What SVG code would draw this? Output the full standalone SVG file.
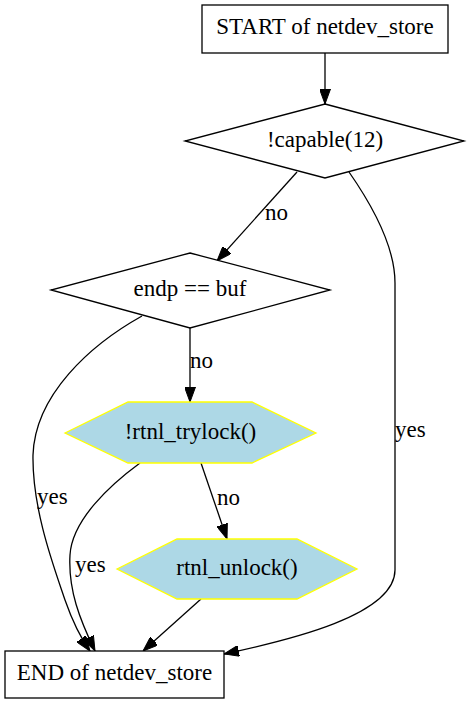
<svg xmlns="http://www.w3.org/2000/svg" width="469" height="704" viewBox="0 0 469 704">
<style>
.n{fill:#fff;stroke:#000;stroke-width:1.3}
.h{fill:#add8e6;stroke:#ffff00;stroke-width:1.3}
.t{font-family:"Liberation Serif","Times New Roman",serif;font-size:23px;fill:#000}
.m{text-anchor:middle}
.e{fill:none;stroke:#000;stroke-width:1.3;marker-end:url(#a)}
</style>
<defs>
<marker id="a" viewBox="0 0 15 11" refX="15" refY="5.5" markerWidth="15" markerHeight="11" markerUnits="userSpaceOnUse" orient="auto">
<path d="M0,0 L15,5.5 L0,11 z" fill="#000" stroke="#000" stroke-width="1"/>
</marker>
</defs>
<rect width="469" height="704" fill="#fff"/>
<g id="edges">
<path class="e" d="M325,53 L325,104"/>
<path class="e" d="M297,172 L217,261"/>
<path class="e" d="M190,328 L190,402"/>
<path class="e" d="M201,463 L227,539"/>
<path class="e" d="M201,599 L143,651"/>
<path class="e" d="M349,172 C372,205 395,245 395,283 L395,570 C395,615 290,640 224,654"/>
<path class="e" d="M142,316 C90,345 35,395 33,455 C32,510 55,570 65,600 C72,620 80,637 90,651"/>
<path class="e" d="M140,463 C110,485 72,520 70,555 C68,590 80,620 95,651"/>
<text class="t" x="265" y="220">no</text>
<text class="t" x="190" y="368">no</text>
<text class="t" x="395" y="437">yes</text>
<text class="t" x="217" y="505">no</text>
<text class="t" x="37" y="504">yes</text>
<text class="t" x="75" y="572">yes</text>
</g>
<g id="start">
<rect class="n" x="202" y="5" width="246" height="48"/>
<text class="t m" x="325" y="34">START of netdev_store</text>
</g>
<g id="capable">
<polygon class="n" points="325,104 464,141 325,178 185,141"/>
<text class="t m" x="325" y="147">!capable(12)</text>
</g>
<g id="endp">
<polygon class="n" points="190,253 330,290 190,328 51,290"/>
<text class="t m" x="190" y="296">endp == buf</text>
</g>
<g id="trylock">
<polygon class="h" points="65,433 128,402 252,402 316,433 252,463 128,463"/>
<text class="t m" x="190.5" y="439">!rtnl_trylock()</text>
</g>
<g id="unlock">
<polygon class="h" points="117,569 177,539 297,539 357,569 297,599 177,599"/>
<text class="t m" x="237" y="575">rtnl_unlock()</text>
</g>
<g id="end">
<rect class="n" x="5" y="651" width="219" height="47"/>
<text class="t m" x="114.5" y="680">END of netdev_store</text>
</g>
</svg>
